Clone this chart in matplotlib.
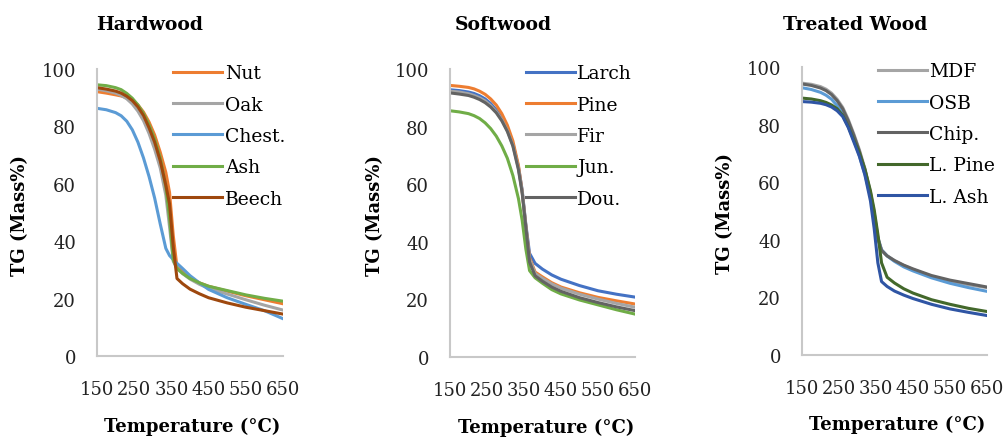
import matplotlib
matplotlib.use("Agg")
import matplotlib.pyplot as plt

plt.rcParams['font.family'] = ['DejaVu Serif']

# temperature grid (°C) shared by all curves
temp = [150, 175, 200, 215, 230, 245, 260, 275, 290, 305, 320, 335, 345, 355, 365, 380,
        400, 425, 450, 500, 550, 600, 650]

# %% Hardwood
nut   = [92.1, 91.6, 91.0, 90.6, 90.0, 89.0, 87.5, 85.0, 81.5, 77.0, 71.0, 64.0, 57.0, 42.0, 31.0, 29.5,
         27.3, 25.5, 24.3, 22.6, 21.0, 19.6, 18.2]
oak   = [93.0, 92.4, 91.6, 90.8, 89.6, 87.8, 85.3, 82.0, 77.5, 72.0, 65.5, 56.0, 45.0, 33.0, 30.5, 28.7,
         26.8, 25.0, 23.6, 21.6, 19.6, 17.7, 16.0]
chest = [86.3, 85.8, 84.8, 83.7, 81.8, 78.8, 74.5, 69.0, 62.5, 55.0, 46.0, 37.5, 35.0, 33.6, 32.3, 30.5,
         28.0, 25.5, 23.2, 20.3, 18.0, 15.8, 13.0]
ash   = [94.5, 94.2, 93.5, 92.8, 91.5, 89.8, 87.5, 84.5, 80.5, 75.5, 69.0, 59.0, 48.0, 33.5, 30.5, 28.8,
         27.0, 25.5, 24.3, 22.8, 21.3, 20.1, 19.1]
beech = [93.5, 93.0, 92.3, 91.6, 90.5, 89.0, 86.8, 83.8, 79.5, 74.5, 68.0, 59.5, 53.0, 38.0, 27.0, 25.2,
         23.3, 21.7, 20.3, 18.5, 17.0, 15.8, 14.6]

# %% Softwood
larch = [92.8, 92.5, 92.0, 91.5, 90.7, 89.6, 88.0, 85.8, 83.0, 79.2, 74.0, 66.0, 58.0, 46.0, 36.0, 32.5,
         30.5, 28.5, 27.0, 24.8, 23.0, 21.8, 20.8]
pine  = [94.3, 94.0, 93.6, 93.1, 92.3, 91.2, 89.6, 87.5, 84.5, 80.5, 75.0, 66.5, 57.5, 45.5, 34.5, 29.5,
         27.8, 25.8, 24.3, 22.3, 20.7, 19.5, 18.4]
fir   = [92.3, 92.0, 91.4, 90.8, 90.0, 88.9, 87.3, 85.2, 82.4, 78.6, 73.5, 65.5, 57.5, 45.5, 34.0, 29.0,
         27.3, 25.4, 23.9, 21.8, 20.1, 18.6, 17.3]
jun   = [85.5, 85.1, 84.5, 83.8, 82.8, 81.3, 79.3, 76.7, 73.3, 69.0, 63.0, 55.0, 47.5, 37.5, 30.0, 27.5,
         25.6, 23.4, 21.9, 19.8, 18.1, 16.4, 14.9]
dou   = [91.7, 91.3, 90.8, 90.2, 89.4, 88.3, 86.8, 84.8, 82.0, 78.3, 73.2, 65.0, 57.0, 45.0, 33.0, 28.2,
         26.3, 24.3, 22.8, 20.6, 18.9, 17.4, 16.1]

# %% Treated wood
mdf   = [94.4, 94.0, 93.2, 92.3, 90.9, 88.8, 86.0, 81.8, 76.8, 71.3, 64.8, 56.5, 49.5, 41.0, 36.5, 34.5,
         32.8, 31.1, 29.7, 27.3, 25.6, 24.4, 23.4]
osb   = [92.8, 92.2, 91.2, 90.2, 88.8, 86.6, 84.0, 79.8, 74.8, 69.2, 62.8, 55.0, 48.5, 40.5, 36.5, 34.4,
         32.5, 30.6, 29.2, 26.8, 24.9, 23.4, 22.1]
chip  = [94.1, 93.6, 92.7, 91.8, 90.4, 88.3, 85.5, 81.3, 76.3, 70.8, 64.3, 56.0, 49.0, 40.5, 36.3, 34.4,
         32.8, 31.2, 29.9, 27.6, 26.0, 24.8, 23.6]
lpine = [89.2, 88.9, 88.3, 87.7, 86.8, 85.5, 83.2, 79.3, 74.6, 70.2, 64.5, 57.0, 50.5, 42.0, 32.0, 27.0,
         25.0, 23.0, 21.5, 19.2, 17.6, 16.2, 15.1]
lash  = [88.0, 87.8, 87.4, 86.9, 86.1, 84.8, 82.8, 79.0, 74.0, 69.0, 62.5, 53.5, 44.0, 32.0, 25.5, 23.8,
         22.2, 20.8, 19.6, 17.6, 16.0, 14.8, 13.7]

panels = [
    ("Hardwood", [("Nut", nut, "#ED7D31"), ("Oak", oak, "#A5A5A5"), ("Chest.", chest, "#5B9BD5"),
                  ("Ash", ash, "#70AD47"), ("Beech", beech, "#9E480E")]),
    ("Softwood", [("Larch", larch, "#4472C4"), ("Pine", pine, "#ED7D31"), ("Fir", fir, "#A5A5A5"),
                  ("Jun.", jun, "#70AD47"), ("Dou.", dou, "#636363")]),
    ("Treated Wood", [("MDF", mdf, "#A5A5A5"), ("OSB", osb, "#5B9BD5"), ("Chip.", chip, "#636363"),
                      ("L. Pine", lpine, "#43682B"), ("L. Ash", lash, "#2F55A4")]),
]

W, H = 1006, 439
fig = plt.figure(figsize=(W / 100, H / 100), dpi=100)

# axes boxes in pixels: left, right, top, bottom
boxes = [(97, 283, 70, 357), (450, 635, 70, 358), (802, 987, 68, 356)]
title_pos = [(150, 25), (503, 25), (855, 25)]
ylab_pos = [(20, 215), (375, 215), (725, 213)]
xlab_pos = [(192, 427), (546, 428), (897, 425)]

for i, (name, series) in enumerate(panels):
    l, r, t, b = boxes[i]
    ax = fig.add_axes([l / W, 1 - b / H, (r - l) / W, (b - t) / H])
    for lab, vals, col in series:
        ax.plot(temp, vals, color=col, lw=2.2, label=lab, solid_joinstyle='round')
    ax.set_xlim(150, 650)
    ax.set_ylim(0, 100)
    ax.set_xticks(range(150, 651, 100))
    ax.set_yticks(range(0, 101, 20))
    for s in ['top', 'right']:
        ax.spines[s].set_visible(False)
    for s in ['left', 'bottom']:
        ax.spines[s].set_color('#C8C8C8')
        ax.spines[s].set_linewidth(1.5)
    ax.tick_params(axis='both', length=0, labelsize=13, colors='#222222')
    ax.tick_params(axis='y', pad=15)
    ax.tick_params(axis='x', pad=17)
    ax.legend(loc='upper left', bbox_to_anchor=(0.41, 1.016), frameon=False, fontsize=13.5,
              handlelength=2.6, handletextpad=0.15, labelspacing=0.71,
              borderpad=0, borderaxespad=0)

    fig.text(title_pos[i][0] / W, 1 - title_pos[i][1] / H, name, ha='center', va='center',
             fontsize=13.5, fontweight='bold')
    fig.text(ylab_pos[i][0] / W, 1 - ylab_pos[i][1] / H, "TG (Mass%)", ha='center', va='center',
             rotation=90, fontsize=13, fontweight='bold')
    fig.text(xlab_pos[i][0] / W, 1 - xlab_pos[i][1] / H, "Temperature (°C)", ha='center', va='center',
             fontsize=13, fontweight='bold')

fig.savefig("out.png", dpi=100)
